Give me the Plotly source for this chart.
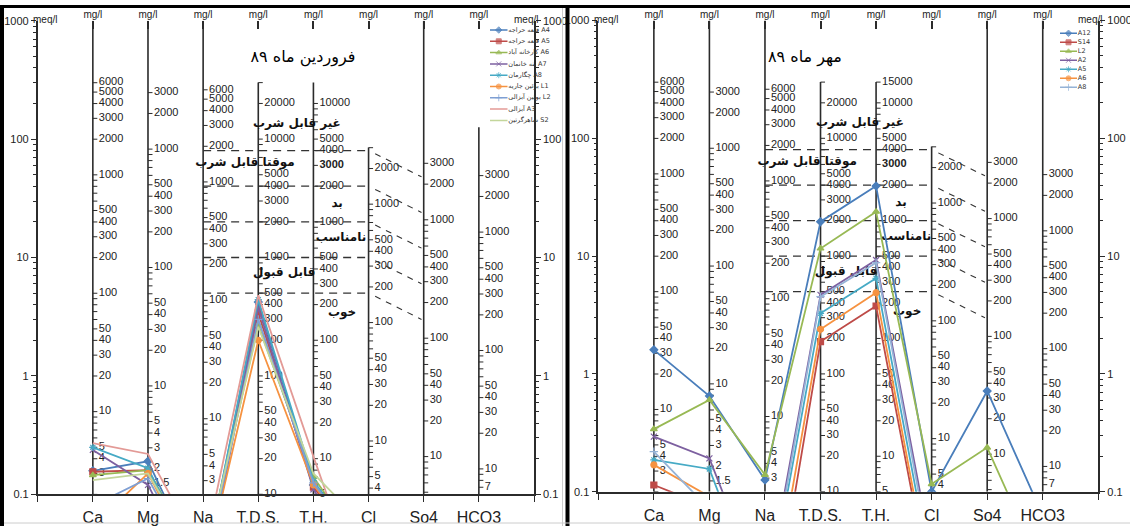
import plotly.graph_objects as go

W, H = 1130, 526

# ---------------- data ----------------
params = ["Ca", "Mg", "Na", "T.D.S.", "T.H.", "Cl", "So4", "HCO3"]
# mg/l that correspond to 1 meq/l on each column scale
col_factor = [20.04, 12.15, 23.0, 100.0, 50.0, 35.45, 48.03, 61.02]

ca_labels = [6000, 5000, 4000, 3000, 2000, 1000, 500, 400, 300, 200, 100, 50, 40, 30, 20, 10, 5, 4, 3]
mg_labels = [3000, 2000, 1000, 500, 400, 300, 200, 100, 50, 40, 30, 20, 10, 5, 4, 3, 2, 1.5]
na_labels = [6000, 5000, 4000, 3000, 2000, 1000, 500, 400, 300, 200, 100, 50, 40, 30, 20, 10, 5, 4, 3]
tds_labels = [20000, 10000, 5000, 4000, 3000, 2000, 1000, 500, 400, 300, 200, 100, 50, 40, 30, 20, 10]
th_labels_left = [10000, 5000, 4000, 3000, 2000, 1000, 500, 400, 300, 200, 100, 50, 40, 30, 20, 10, 5]
th_labels_right = [15000] + th_labels_left
cl_labels = [2000, 1000, 500, 400, 300, 200, 100, 50, 40, 30, 20, 10, 5, 4]
so4_labels = [3000, 2000, 1000, 500, 400, 300, 200, 100, 50, 40, 30, 20, 10]
hco3_labels = [3000, 2000, 1000, 500, 400, 300, 200, 100, 50, 40, 30, 20, 10, 7]
col_tick_lo = [2, 1.5, 3, 10, 5, 4, 5, 7]
col_tick_hi = [6000, 3000, 6000, 30000, 15000, 3000, 3000, 3000]

meq_ticks = [0.1, 1, 10, 100, 1000]
meq_ticktext = ["0.1", "1", "10", "100", "1000"]

# water-quality class limits (meq/l on the main scale)
quality_levels = [80, 40, 20, 10, 5]
quality_names = ["غیر قابل شرب", "موقتا قابل شرب", "بد", "نامناسب", "قابل قبول", "خوب"]

# Farvardin 89 samples (meq/l): Ca, Mg, Na, TDS, TH, Cl, So4, HCO3
far_names = ["قلعه حراجه A4", "قلعه حراجه A5", "کارخانه آباد A6", "بنه خانمان A7",
             "چگارمان A8", "بوئین جاریه L1", "بوئین آبزالی L2", "آبزالی A3", "شاهرگرتین S2"]
far_A4 = [0.158, 0.19, 0.02, 4.2, 0.12, 0.03, 0.01, 0.01]
far_A5 = [0.155, 0.16, 0.02, 3.4, 0.115, 0.03, 0.01, 0.01]
far_A6 = [0.145, 0.16, 0.025, 2.7, 0.14, 0.03, 0.01, 0.01]
far_A7 = [0.237, 0.12, 0.015, 3.8, 0.11, 0.02, 0.01, 0.01]
far_A8 = [0.249, 0.166, 0.02, 4.4, 0.13, 0.03, 0.01, 0.01]
far_L1 = [0.054, 0.15, 0.02, 2.0, 0.12, 0.03, 0.01, 0.01]
far_L2 = [0.08, 0.136, 0.02, 3.0, 0.125, 0.03, 0.01, 0.01]
far_A3 = [0.27, 0.219, 0.03, 4.8, 0.208, 0.01, 0.01, 0.01]
far_S2 = [0.132, 0.15, 0.025, 2.6, 0.15, 0.05, 0.01, 0.01]
far_values = [far_A4, far_A5, far_A6, far_A7, far_A8, far_L1, far_L2, far_A3, far_S2]

# Mehr 89 samples (meq/l)
mehr_names = ["A12", "S14", "L2", "A2", "A5", "A6", "A8"]
mehr_A12 = [1.60, 0.649, 0.126, 19.6, 39.4, 0.1, 0.716, 0.063]
mehr_S14 = [0.114, 0.074, 0.003, 1.88, 3.77, 0.013, 0.01, 0.01]
mehr_L2 = [0.34, 0.601, 0.139, 11.6, 23.8, 0.116, 0.237, 0.021]
mehr_A2 = [0.293, 0.192, 0.012, 4.68, 9.27, 0.03, 0.01, 0.01]
mehr_A5 = [0.186, 0.156, 0.009, 3.27, 6.48, 0.02, 0.01, 0.01]
mehr_A6 = [0.169, 0.091, 0.005, 2.39, 4.89, 0.015, 0.01, 0.01]
mehr_A8 = [0.219, 0.071, 0.01, 4.52, 8.8, 0.025, 0.01, 0.01]
mehr_values = [mehr_A12, mehr_S14, mehr_L2, mehr_A2, mehr_A5, mehr_A6, mehr_A8]

# ---------------- styles ----------------
far_colors = ["#4A7EBB", "#BE4B48", "#98B954", "#7D60A0", "#46AAC5", "#F69240", "#7F9FD3", "#E39A96", "#C3D69B"]
far_symbols = ["diamond", "square", "triangle-up", "x-thin-open", "asterisk-open", "circle", "cross-thin-open", None, None]
mehr_colors = ["#4A7EBB", "#BE4B48", "#98B954", "#7D60A0", "#46AAC5", "#F69240", "#95B3D7"]
mehr_symbols = ["diamond", "square", "triangle-up", "x-thin-open", "asterisk-open", "circle", "cross-thin-open"]

NUM_FONT = "Liberation Sans, Arial, sans-serif"
FA_FONT = "DejaVu Sans, Noto Sans, sans-serif"
AX = "#2b2b2b"

fig = go.Figure()


def decade_ticks(lo, hi, extra):
    vals = set(v for v in extra if lo <= v <= hi)
    for k in range(-1, 6):
        for d in range(1, 10):
            v = d * 10 ** k
            if lo <= v <= hi:
                vals.add(v)
    return sorted(vals)


def fmt(v):
    return ("%g" % v)


def add_columns(xa, ya, th_labels, col_top, unit_px):
    labels_all = [ca_labels, mg_labels, na_labels, tds_labels, th_labels, cl_labels, so4_labels, hco3_labels]
    lx, ly = [], []
    for i in range(8):
        c = i + 1
        lx += [c, c, None]
        ly += [col_top[i], 0.1, None]
    fig.add_trace(go.Scatter(x=lx, y=ly, mode="lines", line=dict(color=AX, width=1.6),
                             xaxis=xa, yaxis=ya, showlegend=False, hoverinfo="skip"))
    tl = 4.5 / unit_px
    tx, ty = [], []
    for i in range(8):
        c = i + 1
        f = col_factor[i]
        for v in decade_ticks(col_tick_lo[i], col_tick_hi[i], labels_all[i]):
            tx += [c, c + tl, None]
            ty += [v / f, v / f, None]
    fig.add_trace(go.Scatter(x=tx, y=ty, mode="lines", line=dict(color=AX, width=1),
                             xaxis=xa, yaxis=ya, showlegend=False, hoverinfo="skip"))
    for i in range(8):
        c = i + 1
        f = col_factor[i]
        labs = labels_all[i]
        txt = [("<b>%s</b>" % fmt(v)) if (i == 4 and v == 3000) else fmt(v) for v in labs]
        fig.add_trace(go.Scatter(x=[c + 6.0 / unit_px] * len(labs), y=[v / f for v in labs],
                                 mode="text", text=txt, textposition="middle right",
                                 textfont=dict(family=NUM_FONT, size=11, color="#222"),
                                 xaxis=xa, yaxis=ya, showlegend=False, hoverinfo="skip",
                                 cliponaxis=False))


def add_quality(xa, ya, pos):
    dx, dy = [], []
    for L in quality_levels:
        dx += [3, 6, None]
        dy += [L, L, None]
    fig.add_trace(go.Scatter(x=dx, y=dy, mode="lines", line=dict(color="#333", width=1.3, dash="8px,6px"),
                             xaxis=xa, yaxis=ya, showlegend=False, hoverinfo="skip"))
    sx, sy = [], []
    for L in quality_levels:
        sx += [6.12, 6.96, None]
        sy += [L * 0.94, L * 0.6, None]
    fig.add_trace(go.Scatter(x=sx, y=sy, mode="lines", line=dict(color="#333", width=1.1, dash="6px,6px"),
                             xaxis=xa, yaxis=ya, showlegend=False, hoverinfo="skip"))
    fig.add_trace(go.Scatter(x=[p[0] for p in pos], y=[p[1] for p in pos], mode="text",
                             text=["<b>%s</b>" % t for t in quality_names], textposition="middle center",
                             textfont=dict(family=FA_FONT, size=12, color="#111"),
                             xaxis=xa, yaxis=ya, showlegend=False, hoverinfo="skip"))


def add_series(xa, ya, values, colors, symbols):
    xs = list(range(1, 9))
    for vals, col, sym in zip(values, colors, symbols):
        fig.add_trace(go.Scatter(
            x=xs, y=vals, mode="lines+markers" if sym else "lines",
            line=dict(color=col, width=1.8),
            marker=dict(symbol=sym or "circle", size=6, color=col, line=dict(color=col, width=1.2)),
            xaxis=xa, yaxis=ya, showlegend=False, hoverinfo="skip"))


def add_legend(xa, ya, names, colors, symbols, fsize):
    for i, (nm, col, sym) in enumerate(zip(names, colors, symbols)):
        fig.add_trace(go.Scatter(
            x=[0, 0.5, 1], y=[i, i, i], mode="lines+markers" if sym else "lines",
            line=dict(color=col, width=1.5),
            marker=dict(symbol=sym or "circle", size=[0, 5, 0], color=col, line=dict(color=col, width=1)),
            xaxis=xa, yaxis=ya, showlegend=False, hoverinfo="skip", cliponaxis=False))
    fig.add_trace(go.Scatter(x=[1.05] * len(names), y=list(range(len(names))), mode="text",
                             text=names, textposition="middle right",
                             textfont=dict(family=FA_FONT, size=fsize, color="#333"),
                             xaxis=xa, yaxis=ya, showlegend=False, hoverinfo="skip", cliponaxis=False))


# ---------------- left panel (Farvardin) ----------------
left_top = [1000, 1000, 1000, 300, 300, 85, 1000, 126]
add_columns("x", "y", th_labels_left, left_top, 55.15)
add_quality("x", "y", [(4.70, 134), (3.76, 62.8), (5.43, 28.3), (5.50, 14.6), (4.47, 7.4), (5.52, 3.4)])
add_series("x", "y", far_values, far_colors, far_symbols)
fig.add_trace(go.Scatter(x=[4.81], y=[484], mode="text", text=["فروردین ماه ۸۹"],
                         textfont=dict(family=FA_FONT, size=16, color="#000"),
                         xaxis="x", yaxis="y", showlegend=False, hoverinfo="skip"))

# ---------------- right panel (Mehr) ----------------
right_top = [1000, 1000, 1000, 300, 300, 85, 1000, 1000]
add_columns("x2", "y2", th_labels_right, right_top, 55.55)
add_quality("x2", "y2", [(4.71, 135), (3.76, 63), (5.45, 28.2), (5.54, 14.5), (4.46, 7.3), (5.56, 3.35)])
add_series("x2", "y2", mehr_values, mehr_colors, mehr_symbols)
fig.add_trace(go.Scatter(x=[3.72], y=[481], mode="text", text=["مهر ماه ۸۹"],
                         textfont=dict(family=FA_FONT, size=16, color="#000"),
                         xaxis="x2", yaxis="y2", showlegend=False, hoverinfo="skip"))

# dummy traces for the overlay axes
fig.add_trace(go.Scatter(x=[None], y=[None], xaxis="x3", yaxis="y3", showlegend=False, hoverinfo="skip"))
fig.add_trace(go.Scatter(x=[None], y=[None], xaxis="x4", yaxis="y4", showlegend=False, hoverinfo="skip"))

# legends
add_legend("x5", "y5", far_names, far_colors, far_symbols, 6.5)
add_legend("x6", "y6", mehr_names, mehr_colors, mehr_symbols, 6.5)

# ---------------- axes ----------------
minor_vals = [d * 10 ** k for k in range(-1, 3) for d in range(2, 10)]


def yax(dom, anchor, side="left", overlaying=None):
    d = dict(type="log", range=[-1, 3], tickmode="array", tickvals=meq_ticks, ticktext=meq_ticktext,
             ticks="outside", ticklen=5, tickwidth=1, tickcolor=AX,
             minor=dict(tickmode="array", tickvals=minor_vals, ticks="outside", ticklen=3, tickcolor=AX, showgrid=False),
             showline=True, linecolor=AX, linewidth=1.6, showgrid=False, zeroline=False, automargin=False,
             tickfont=dict(family=NUM_FONT, size=11, color="#222"), anchor=anchor, side=side)
    if overlaying:
        d["overlaying"] = overlaying
    else:
        d["domain"] = dom
    return d


def xax_bottom(dom, anchor):
    return dict(domain=dom, range=[0, 9], tickmode="array", tickvals=list(range(10)),
                ticktext=[""] + params + [""], ticks="outside", ticklen=6, tickcolor=AX, tickwidth=1.2,
                showline=True, linecolor=AX, linewidth=1.6, showgrid=False, zeroline=False, automargin=False,
                tickfont=dict(family=NUM_FONT, size=16, color="#222"), ticklabelstandoff=2, anchor=anchor)


def xax_top(overlaying, anchor):
    return dict(overlaying=overlaying, side="top", anchor=anchor, range=[0, 9], tickmode="array",
                tickvals=list(range(1, 9)), ticktext=["mg/l"] * 8, ticks="inside", ticklen=8,
                tickcolor=AX, tickwidth=1.5, showline=False, showgrid=False, zeroline=False, automargin=False,
                tickfont=dict(family=NUM_FONT, size=10, color="#222"))


LX = [37.7 / W, 534 / W]
LY = [1 - 494.3 / H, 1 - 20.7 / H]
RX = [598.3 / W, 1098.3 / W]
RY = [1 - 491.7 / H, 1 - 20.5 / H]

hidden = dict(visible=False, showgrid=False, zeroline=False, automargin=False)

fig.update_layout(
    template="none",
    width=W, height=H, margin=dict(l=0, r=0, t=0, b=0, autoexpand=False),
    paper_bgcolor="white", plot_bgcolor="rgba(0,0,0,0)", showlegend=False,
    xaxis=xax_bottom(LX, "y"), yaxis=yax(LY, "x"),
    xaxis2=xax_bottom(RX, "y2"), yaxis2=yax(RY, "x2"),
    xaxis3=xax_top("x", "y"), yaxis3=yax(None, "x", "right", "y"),
    xaxis4=xax_top("x2", "y2"), yaxis4=yax(None, "x2", "right", "y2"),
    xaxis5=dict(domain=[490 / W, 560 / W], range=[0, 4], anchor="y5", **hidden),
    yaxis5=dict(domain=[1 - (30 + 8 * 11.3 + 5.65) / H, 1 - (30 - 5.65) / H], range=[8.5, -0.5], anchor="x5", **hidden),
    xaxis6=dict(domain=[1060 / W, 1111 / W], range=[0, 3], anchor="y6", **hidden),
    yaxis6=dict(domain=[1 - (33.3 + 6 * 9.0 + 4.5) / H, 1 - (33.3 - 4.5) / H], range=[6.5, -0.5], anchor="x6", **hidden),
)

# meq/l captions at the top of the main axes
for xr in ("x", "x2"):
    for xv in (0.13, 8.85):
        fig.add_annotation(x=xv, y=1 - 12 / H, xref=xr, yref="paper", text="meq/l", showarrow=False,
                           font=dict(family=NUM_FONT, size=10, color="#222"))

# page frame
frame = [
    dict(type="line", xref="paper", yref="paper", x0=0, x1=1, y0=1 - 6.5 / H, y1=1 - 6.5 / H, line=dict(color="black", width=3)),
    dict(type="line", xref="paper", yref="paper", x0=2 / W, x1=2 / W, y0=0, y1=1 - 6 / H, line=dict(color="black", width=4)),
    dict(type="line", xref="paper", yref="paper", x0=567.5 / W, x1=567.5 / W, y0=0, y1=1 - 6 / H, line=dict(color="black", width=4)),
    dict(type="line", xref="paper", yref="paper", x0=562.5 / W, x1=562.5 / W, y0=0, y1=1 - 8 / H, line=dict(color="#cccccc", width=1)),
    dict(type="line", xref="paper", yref="paper", x0=4 / W, x1=1, y0=1 - 523 / H, y1=1 - 523 / H, line=dict(color="#cccccc", width=1)),
]
fig.update_layout(shapes=frame)

fig.write_html("out.html", config={"displayModeBar": False},
               post_script="document.body.style.margin='0px';document.body.style.overflow='hidden';")
